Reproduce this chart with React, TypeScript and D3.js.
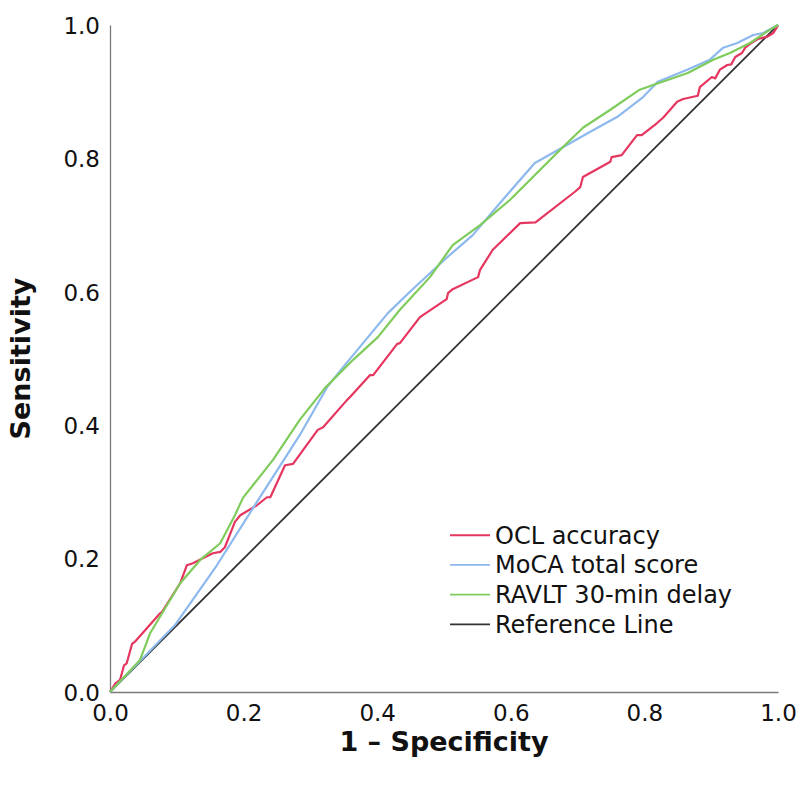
import React, { useEffect, useRef } from 'react';
import * as d3 from 'd3';

// ROC points: [1 - specificity, sensitivity]
const oclAccuracy: [number, number][] = [
  [0, 0], [0.008, 0.013], [0.015, 0.018], [0.021, 0.04], [0.025, 0.043], [0.033, 0.072],
  [0.037, 0.075], [0.075, 0.118], [0.078, 0.12], [0.105, 0.163], [0.115, 0.19], [0.124, 0.193],
  [0.154, 0.208], [0.165, 0.21], [0.172, 0.217], [0.187, 0.255], [0.195, 0.265], [0.22, 0.28],
  [0.235, 0.292], [0.24, 0.292], [0.262, 0.34], [0.274, 0.342], [0.311, 0.393], [0.319, 0.397],
  [0.355, 0.438], [0.359, 0.442], [0.389, 0.475], [0.394, 0.475], [0.43, 0.522], [0.434, 0.523],
  [0.464, 0.562], [0.504, 0.589], [0.506, 0.598], [0.513, 0.604], [0.551, 0.622], [0.554, 0.633],
  [0.573, 0.663], [0.614, 0.703], [0.637, 0.704], [0.696, 0.75], [0.704, 0.757], [0.708, 0.772],
  [0.749, 0.795], [0.751, 0.802], [0.766, 0.805], [0.789, 0.835], [0.796, 0.835], [0.819, 0.853],
  [0.828, 0.861], [0.849, 0.885], [0.858, 0.889], [0.88, 0.894], [0.883, 0.907], [0.901, 0.922],
  [0.906, 0.92], [0.913, 0.933], [0.924, 0.94], [0.93, 0.941], [0.936, 0.952], [0.946, 0.958],
  [0.951, 0.966], [0.963, 0.975], [0.97, 0.979], [0.978, 0.981], [0.983, 0.982], [0.993, 0.988],
  [0.998, 0.996], [1, 1]
];

const mocaTotal: [number, number][] = [
  [0, 0], [0.097, 0.1], [0.16, 0.19], [0.22, 0.285], [0.284, 0.385], [0.325, 0.457],
  [0.349, 0.487], [0.416, 0.568], [0.449, 0.6], [0.504, 0.651], [0.543, 0.685], [0.588, 0.738],
  [0.636, 0.793], [0.684, 0.82], [0.719, 0.84], [0.759, 0.862], [0.798, 0.892], [0.82, 0.915],
  [0.864, 0.933], [0.898, 0.948], [0.918, 0.966], [0.939, 0.973], [0.963, 0.985], [0.978, 0.988],
  [1, 1]
];

const ravltDelay: [number, number][] = [
  [0, 0], [0.045, 0.048], [0.06, 0.088], [0.078, 0.118], [0.105, 0.163], [0.135, 0.198],
  [0.165, 0.223], [0.187, 0.265], [0.199, 0.291], [0.244, 0.348], [0.284, 0.408], [0.322, 0.456],
  [0.364, 0.498], [0.401, 0.532], [0.434, 0.573], [0.479, 0.622], [0.513, 0.67], [0.554, 0.7],
  [0.599, 0.738], [0.629, 0.768], [0.674, 0.813], [0.708, 0.846], [0.749, 0.873], [0.793, 0.903],
  [0.813, 0.91], [0.865, 0.928], [0.903, 0.948], [0.928, 0.958], [0.958, 0.973], [0.988, 0.993],
  [1, 1]
];

const referenceLine: [number, number][] = [[0, 0], [1, 1]];

const seriesNames = ['OCL accuracy', 'MoCA total score', 'RAVLT 30-min delay', 'Reference Line'];
const seriesColors = ['#e5365f', '#8db9ee', '#7fcb5c', '#333333'];
const ticks = [0, 0.2, 0.4, 0.6, 0.8, 1.0];

const font = '"DejaVu Sans", Verdana, sans-serif';

export default function App() {
  const ref = useRef<SVGSVGElement>(null);

  useEffect(() => {
    const width = 804;
    const height = 787;
    const margin = { top: 25, right: 26, bottom: 95, left: 110 };
    const w = width - margin.left - margin.right;
    const h = height - margin.top - margin.bottom;

    const svg = d3.select(ref.current);
    svg.selectAll('*').remove();

    const g = svg.append('g').attr('transform', `translate(${margin.left},${margin.top})`);

    const x = d3.scaleLinear().domain([0, 1]).range([0, w]);
    const y = d3.scaleLinear().domain([0, 1]).range([h, 0]);

    // axes without tick marks
    const xAxis = g.append('g')
      .attr('transform', `translate(0,${h})`)
      .call(d3.axisBottom(x).tickValues(ticks).tickSize(0).tickPadding(13).tickFormat(d3.format('.1f')));
    const yAxis = g.append('g')
      .call(d3.axisLeft(y).tickValues(ticks).tickSize(0).tickPadding(10).tickFormat(d3.format('.1f')));

    [xAxis, yAxis].forEach(a => {
      a.select('.domain').attr('stroke', '#7a7a7a').attr('stroke-width', 1.3);
      a.selectAll('text').attr('font-family', font).attr('font-size', 23).attr('fill', '#111');
    });
    yAxis.selectAll('text').attr('dy', '0.36em');
    xAxis.selectAll('text').attr('dy', '0.71em');

    const line = d3.line<[number, number]>()
      .x(d => x(d[0]))
      .y(d => y(d[1]));

    const all = [oclAccuracy, mocaTotal, ravltDelay, referenceLine];
    // reference line drawn first, then the curves
    g.append('path')
      .datum(referenceLine)
      .attr('d', line)
      .attr('fill', 'none')
      .attr('stroke', seriesColors[3])
      .attr('stroke-width', 1.8);

    all.slice(0, 3).forEach((data, i) => {
      g.append('path')
        .datum(data)
        .attr('d', line)
        .attr('fill', 'none')
        .attr('stroke', seriesColors[i])
        .attr('stroke-width', 2.2)
        .attr('stroke-linejoin', 'round');
    });

    // legend
    const legend = g.append('g').attr('transform', `translate(${x(0.509)},${y(0.235)})`);
    seriesNames.forEach((name, i) => {
      const row = legend.append('g').attr('transform', `translate(0,${i * 29.7})`);
      row.append('line')
        .attr('x1', 0).attr('x2', 40)
        .attr('y1', 0).attr('y2', 0)
        .attr('stroke', seriesColors[i])
        .attr('stroke-width', 1.8);
      row.append('text')
        .attr('x', 45)
        .attr('dy', '0.35em')
        .attr('font-family', font)
        .attr('font-size', 24)
        .attr('fill', '#111')
        .text(name);
    });

    // axis titles
    g.append('text')
      .attr('text-anchor', 'middle')
      .attr('x', w / 2 + 0)
      .attr('y', h + 59)
      .attr('font-family', font)
      .attr('font-weight', 'bold')
      .attr('font-size', 27)
      .attr('fill', '#111')
      .text('1 – Specificity');

    g.append('text')
      .attr('text-anchor', 'middle')
      .attr('transform', `translate(${-80},${h / 2}) rotate(-90)`)
      .attr('font-family', font)
      .attr('font-weight', 'bold')
      .attr('font-size', 27)
      .attr('fill', '#111')
      .text('Sensitivity');
  }, []);

  return (
    <svg
      ref={ref}
      width={804}
      height={787}
      style={{ position: 'absolute', left: 0, top: 0, background: '#fff' }}
    />
  );
}
